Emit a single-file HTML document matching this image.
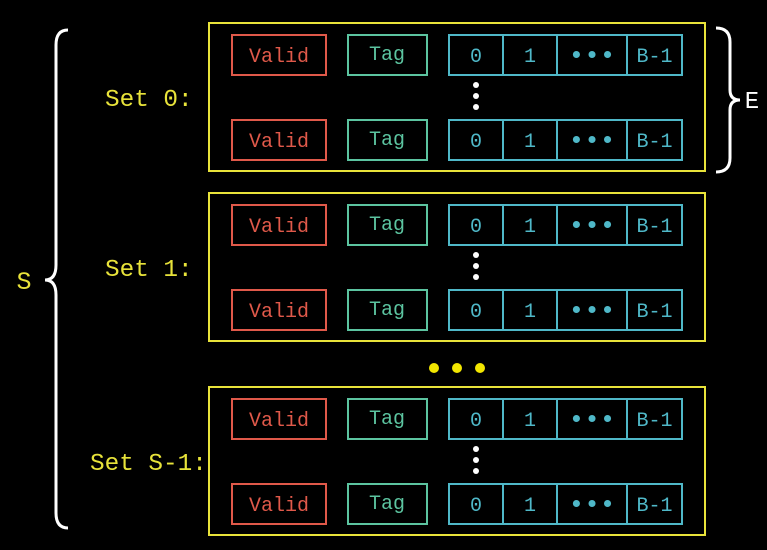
<!DOCTYPE html>
<html><head><meta charset="utf-8"><style>
body{margin:0;background:#000;width:767px;height:545px;overflow:hidden}
svg text{font-family:"Liberation Mono",monospace}
</style></head><body>
<svg id="d" width="767" height="545" xmlns="http://www.w3.org/2000/svg">
<path d="M68,30 Q56,30 56,45 L56,265 Q56,280 45,280 Q56,280 56,295 L56,513 Q56,528 68,528" fill="none" stroke="#fff" stroke-width="3"/>
<text x="24" y="289" fill="#e8e33a" font-size="25" text-anchor="middle">S</text>
<path d="M716,28 Q730,28 730,42 L730,90 Q730,100 740,100 Q730,100 730,110 L730,158 Q730,172 716,172" fill="none" stroke="#fff" stroke-width="3"/>
<text x="752" y="108" fill="#fff" font-size="24" text-anchor="middle">E</text>
<circle cx="434" cy="368" r="5" fill="#f2e600"/>
<circle cx="457" cy="368" r="5" fill="#f2e600"/>
<circle cx="480" cy="368" r="5" fill="#f2e600"/>
</svg>
<script>
const setLabels=["Set 0:","Set 1:","Set S-1:"];
const setTops=[23,193,387];
const svg=document.getElementById('d');
const NS="http://www.w3.org/2000/svg";
function mk(tag,attrs,txt){const e=document.createElementNS(NS,tag);for(const k in attrs)e.setAttribute(k,attrs[k]);if(txt!==undefined)e.textContent=txt;svg.appendChild(e);return e;}
const Y="#e8e33a",R="#e0594a",G="#5cc4a0",C="#4fb8c8";
setLabels.forEach((lab,i)=>{
  const t=setTops[i];
  let b=mk('rect',{x:209,y:t,width:496,height:148,fill:'none',stroke:Y,'stroke-width':2});
  
  
  const lx=lab.length>6?90:105;
  let l=mk('text',{x:lx,y:t+83,fill:Y,'font-size':24,'text-anchor':'start',textLength:lab.length*14.6,lengthAdjust:'spacingAndGlyphs'},lab);
  
  
  [t+12,t+97].forEach(ry=>{
    let v=mk('rect',{x:232,y:ry,width:94,height:40,fill:'none',stroke:R,'stroke-width':2});
    
    
    let vt=mk('text',{x:279,y:ry+27,fill:R,'font-size':20,'text-anchor':'middle'},'Valid');
    
    
    let g=mk('rect',{x:348,y:ry,width:79,height:40,fill:'none',stroke:G,'stroke-width':2});
    
    
    let gt=mk('text',{x:387,y:ry+25,fill:G,'font-size':20,'text-anchor':'middle'},'Tag');
    
    
    const cells=[[449,503,'0'],[503,557,'1'],[557,627,'•••'],[627,682,'B-1']];
    cells.forEach(c=>{
      let r=mk('rect',{x:c[0],y:ry,width:c[1]-c[0],height:40,fill:'none',stroke:C,'stroke-width':2});
      
      
      let ct=mk('text',{x:(c[0]+c[1])/2,y:ry+(c[2]==='•••'?28:27),fill:C,'font-size':c[2]==='•••'?26:20,'text-anchor':'middle'},c[2]);
      
      
    });
  });
  [62,73,84].forEach(dy=>{
    let d=mk('circle',{cx:476,cy:t+dy,r:3,fill:'#fff'});
    
    
  });
});
</script>
</body></html>
